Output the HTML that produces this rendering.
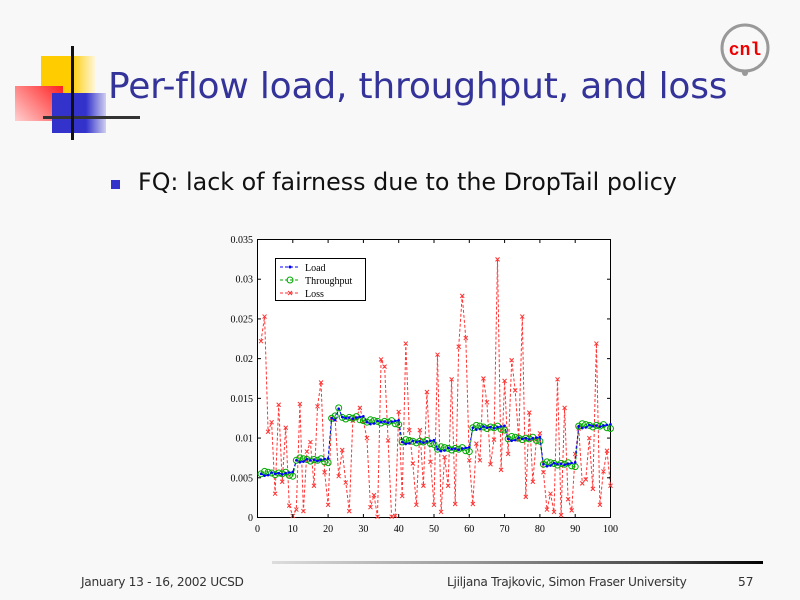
<!DOCTYPE html>
<html><head><meta charset="utf-8"><style>
body{margin:0;width:800px;height:600px;background:#f8f8f8;position:relative;overflow:hidden;font-family:"DejaVu Sans","Liberation Sans",sans-serif}
.abs{position:absolute}
</style></head><body>
<div class="abs" style="left:41px;top:56px;width:52px;height:48px;background:#ffcc00"></div>
<div class="abs" style="left:71px;top:56px;width:24px;height:48px;background:linear-gradient(90deg,#ffcc00,#fff6d8)"></div>
<div class="abs" style="left:15px;top:86px;width:48px;height:35px;background:linear-gradient(225deg,#ff2020,#ffd0d0)"></div>
<div class="abs" style="left:52px;top:93px;width:36px;height:40px;background:#3333cc"></div>
<div class="abs" style="left:86px;top:93px;width:20px;height:40px;background:linear-gradient(90deg,#3333cc,#d0d0f0)"></div>
<div class="abs" style="left:43px;top:116px;width:97px;height:3px;background:#333"></div>
<div class="abs" style="left:71px;top:46px;width:3px;height:94px;background:#111"></div>
<div class="abs" style="left:108px;top:66px;font-size:36px;color:#333399;letter-spacing:-0.2px">Per-flow load, throughput, and loss</div>
<svg class="abs" style="left:715px;top:18px" width="60" height="60"><circle cx="30" cy="30" r="23" fill="none" stroke="#999" stroke-width="3"/><circle cx="30" cy="55" r="3" fill="#999"/><text x="30" y="37" font-size="18" font-weight="bold" fill="#e00" text-anchor="middle" font-family="Liberation Mono,monospace">cnl</text></svg>
<div class="abs" style="left:111px;top:180px;width:9px;height:9px;background:#3333cc"></div>
<div class="abs" style="left:138px;top:168px;font-size:23.8px;color:#111">FQ: lack of fairness due to the DropTail policy</div>
<svg class="abs" style="left:0;top:0" width="800" height="600" id="ch">
<rect x="257.5" y="239.5" width="353" height="278" fill="#fff" stroke="#000"/>
<g id="g"></g>
</svg>
<div class="abs" style="left:272px;top:561px;width:491px;height:3px;background:linear-gradient(90deg,#ddd,#999 40%,#444 80%,#000)"></div>
<div class="abs" style="left:81px;top:575px;font-size:12.2px;color:#333;letter-spacing:-0.3px">January 13 - 16, 2002 UCSD</div>
<div class="abs" style="left:447px;top:575px;font-size:12.2px;color:#333;letter-spacing:-0.3px">Ljiljana Trajkovic, Simon Fraser University</div>
<div class="abs" style="left:738px;top:575px;font-size:12.2px;color:#333">57</div>
<script>
var loss=[.0222,.0253,.0108,.012,.003,.0142,.0045,.0113,.0015,.0002,.001,.0143,.0008,.0083,.0095,.004,.014,.017,.0057,.0016,.0125,.0123,.0052,.0085,.0044,.0008,.0122,.0125,.0138,.0121,.01,.0013,.0028,.0001,.0199,.019,.0097,.0001,.0002,.0133,.0027,.0219,.011,.0068,.0016,.011,.004,.0158,.007,.0016,.0205,.0007,.0076,.004,.0174,.0017,.0215,.0279,.0226,.0072,.0017,.0093,.0072,.0175,.0145,.0067,.0098,.0325,.006,.0172,.008,.0198,.016,.0098,.0253,.0026,.0132,.0045,.0098,.0106,.0057,.001,.003,.0007,.0174,.0003,.0138,.0023,.0009,.008,.0112,.0043,.0048,.01,.0036,.0219,.0016,.0058,.0084,.004];
var lv=[.0055,.0072,.0125,.012,.0095,.0086,.0113,.0099,.0067,.0115],jit=[0,.0002,-.0001,.0003,-.0002,.0001,.0002,-.0003,0,.0001];
var load=[],thr=[];
for(var i=0;i<100;i++){var b=lv[Math.floor(i/10)];load.push(b+jit[(i*7)%10]*.8);thr.push(b+jit[(i*3)%10]);}
load[22]=.0137;thr[22]=.0138;
function X(i){return 257.5+(i+1)*3.53}function Y(v){return 517.5-v/0.035*278}
var s='',pl=function(a,c){var p=a.map(function(v,i){return X(i).toFixed(1)+','+Y(v).toFixed(1)}).join(' ');return '<polyline points="'+p+'" fill="none" stroke="'+c+'" stroke-width="1" stroke-dasharray="3,2"/>'};
s+=pl(loss,'#f33');
loss.forEach(function(v,i){var x=X(i),y=Y(v);s+='<path d="M'+(x-2)+','+(y-2)+'L'+(x+2)+','+(y+2)+'M'+(x+2)+','+(y-2)+'L'+(x-2)+','+(y+2)+'" stroke="#f33" stroke-width="1"/>'});
s+=pl(thr,'#0a0');
thr.forEach(function(v,i){s+='<circle cx="'+X(i)+'" cy="'+Y(v)+'" r="3" fill="none" stroke="#0a0" stroke-width="1"/>'});
s+=pl(load,'#00f');
load.forEach(function(v,i){s+='<circle cx="'+X(i)+'" cy="'+Y(v)+'" r="1.3" fill="#00f"/>'});
for(var k=0;k<=10;k++){var x=257.5+k*35.3;s+='<line x1="'+x+'" y1="517.5" x2="'+x+'" y2="514" stroke="#000"/><line x1="'+x+'" y1="239.5" x2="'+x+'" y2="243" stroke="#000"/><text x="'+x+'" y="532" font-size="10" text-anchor="middle" font-family="Liberation Serif,serif">'+(k*10)+'</text>';}
var yl=['0','0.005','0.01','0.015','0.02','0.025','0.03','0.035'];
for(var k=0;k<8;k++){var y=517.5-k*278/7;s+='<line x1="257.5" y1="'+y+'" x2="261" y2="'+y+'" stroke="#000"/><line x1="610.5" y1="'+y+'" x2="607" y2="'+y+'" stroke="#000"/><text x="253" y="'+(y+3.5)+'" font-size="10" text-anchor="end" font-family="Liberation Serif,serif">'+yl[k]+'</text>';}
s+='<rect x="275.5" y="258.5" width="90" height="42" fill="#fff" stroke="#000"/>';
var L=[['Load','#00f'],['Throughput','#0a0'],['Loss','#f33']];
L.forEach(function(l,j){var y=267+j*13;s+='<line x1="280" x2="300" y1="'+y+'" y2="'+y+'" stroke="'+l[1]+'" stroke-dasharray="3,2"/><text x="305" y="'+(y+4)+'" font-size="10" font-family="Liberation Serif,serif">'+l[0]+'</text>';
if(j==0)s+='<circle cx="290" cy="'+y+'" r="1.5" fill="#00f"/>';if(j==1)s+='<circle cx="290" cy="'+y+'" r="3" fill="none" stroke="#0a0"/>';if(j==2)s+='<path d="M288,'+(y-2)+'L292,'+(y+2)+'M292,'+(y-2)+'L288,'+(y+2)+'" stroke="#f33"/>';});
document.getElementById('g').innerHTML=s;
</script>
</body></html>
